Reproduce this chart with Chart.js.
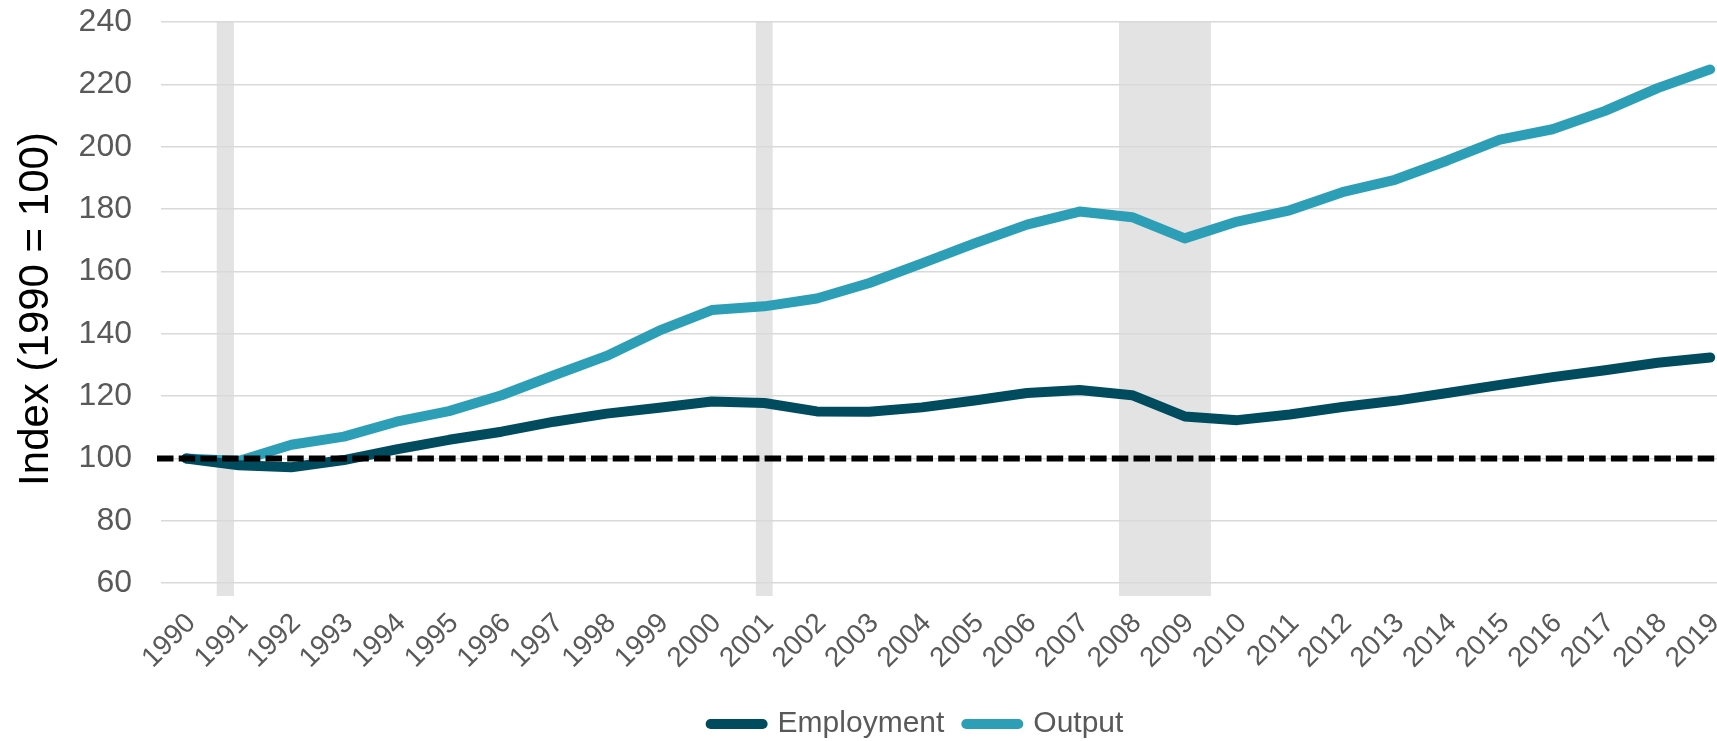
<!DOCTYPE html>
<html>
<head>
<meta charset="utf-8">
<script src="https://cdn.jsdelivr.net/npm/chart.js@4.4.1/dist/chart.umd.min.js"></script>
<style>
  html, body { margin: 0; padding: 0; background: #fff; }
  #wrap { width: 1717px; height: 741px; position: relative; }
</style>
</head>
<body>
<div id="wrap"><canvas id="chart"></canvas></div>
<script>
const years = [1990, 1991, 1992, 1993, 1994, 1995, 1996, 1997, 1998, 1999,
  2000, 2001, 2002, 2003, 2004, 2005, 2006, 2007, 2008, 2009,
  2010, 2011, 2012, 2013, 2014, 2015, 2016, 2017, 2018, 2019];

const employment = [100, 97.8, 97.2, 99.5, 102.9, 106, 108.6, 111.8, 114.4, 116.3,
  118.3, 117.8, 115.1, 115, 116.4, 118.6, 121, 122, 120.3, 113.5,
  112.3, 114.1, 116.5, 118.5, 121, 123.6, 126.1, 128.3, 130.7, 132.4];

const output = [100, 99.2, 104.4, 107, 111.8, 115.2, 120.3, 126.7, 132.9, 141,
  147.6, 148.8, 151.3, 156.3, 162.6, 169, 175, 179.2, 177.4, 170.6,
  176, 179.6, 185.4, 189.4, 195.6, 202.3, 205.6, 211.5, 218.8, 224.8];

const yTicks = [60, 80, 100, 120, 140, 160, 180, 200, 220, 240];

// recession shading, in year units
const recessionStart = [1990.58, 2000.84, 2007.75];
const recessionEnd = [1990.91, 2001.16, 2009.5];

const baseline = 100;

const shading = {
  id: "shading",
  beforeDraw(chart) {
    const { ctx, chartArea, scales } = chart;
    ctx.save();
    ctx.fillStyle = "#e3e3e3";
    recessionStart.forEach((s, i) => {
      const x0 = scales.x.getPixelForValue(s);
      const x1 = scales.x.getPixelForValue(recessionEnd[i]);
      ctx.fillRect(x0, chartArea.top, x1 - x0, chartArea.bottom - chartArea.top);
    });
    ctx.restore();
  },
  afterDatasetsDraw(chart) {
    const { ctx, chartArea, scales } = chart;
    const y = scales.y.getPixelForValue(baseline);
    ctx.save();
    ctx.strokeStyle = "#000";
    ctx.lineWidth = 6;
    ctx.setLineDash([16.5, 5.2]);
    ctx.beginPath();
    ctx.moveTo(chartArea.left - 4, y);
    ctx.lineTo(chartArea.right, y);
    ctx.stroke();
    ctx.restore();
  },
};

// nudge the legend a little left, the original sits slightly off the plot centre
const legendShift = {
  id: "legendShift",
  afterLayout(chart) {
    if (!chart.legend) return;
    chart.legend.left -= 22;
    chart.legend.right -= 22;
  },
};

const toPoints = (vals) => years.map((yr, i) => ({ x: yr, y: vals[i] }));

const font = "'Liberation Sans', Arial, sans-serif";

new Chart(document.getElementById("chart"), {
  type: "line",
  data: {
    datasets: [
      {
        label: "Employment",
        data: toPoints(employment),
        borderColor: "#004b5e",
        backgroundColor: "#004b5e",
        borderWidth: 10,
        borderCapStyle: "round",
        borderJoinStyle: "round",
        pointRadius: 0,
        tension: 0,
      },
      {
        label: "Output",
        data: toPoints(output),
        borderColor: "#2c9eb6",
        backgroundColor: "#2c9eb6",
        borderWidth: 10,
        borderCapStyle: "round",
        borderJoinStyle: "round",
        pointRadius: 0,
        tension: 0,
      },
    ],
  },
  options: {
    responsive: true,
    maintainAspectRatio: false,
    animation: false,
    layout: { padding: { top: 22, left: 0, right: 0, bottom: -8 } },
    scales: {
      x: {
        type: "linear",
        min: 1989.52,
        max: 2019.13,
        grid: { display: false },
        border: { display: false },
        afterBuildTicks: (scale) => {
          scale.ticks = years.map((v) => ({ value: v }));
        },
        afterFit: (scale) => {
          scale.paddingRight = 0;
          scale.paddingLeft = 0;
          scale.height = 91;
        },
        ticks: {
          autoSkip: false,
          minRotation: 45,
          maxRotation: 45,
          padding: 3,
          labelOffset: 5,
          color: "#595959",
          font: { family: font, size: 28 },
          callback: (v) => String(v),
        },
      },
      y: {
        min: 55.9,
        max: 240,
        afterBuildTicks: (scale) => {
          scale.ticks = yTicks.map((v) => ({ value: v }));
        },
        afterFit: (scale) => {
          scale.paddingTop = 0;
          scale.paddingBottom = 0;
          scale.width = 161;
        },
        grid: { color: "#d9d9d9", lineWidth: 1.5, drawTicks: false },
        border: { display: false },
        ticks: {
          padding: 29,
          color: "#595959",
          font: { family: font, size: 32 },
        },
        title: {
          display: true,
          text: "Index (1990 = 100)",
          color: "#000",
          font: { family: font, size: 42 },
          padding: { top: 11, bottom: 0 },
        },
      },
    },
    plugins: {
      legend: {
        position: "bottom",
        fullSize: false,
        labels: {
          usePointStyle: true,
          pointStyle: "line",
          pointStyleWidth: 52,
          padding: 22,
          color: "#595959",
          font: { family: font, size: 30 },
          generateLabels: (chart) =>
            Chart.defaults.plugins.legend.labels.generateLabels(chart).map((item) => ({
              ...item,
              lineCap: "round",
              lineWidth: 10,
            })),
        },
      },
      tooltip: { enabled: false },
    },
  },
  plugins: [shading, legendShift],
});
</script>
</body>
</html>
